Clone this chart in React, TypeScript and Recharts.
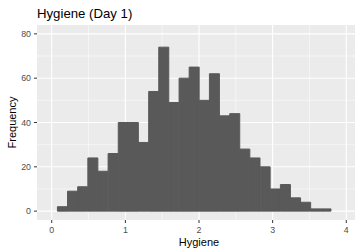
import React from 'react';
import { BarChart, Bar, XAxis, YAxis, CartesianGrid } from 'recharts';

// histogram bins (bin midpoints, counts)
const binMids = [
  0.146, 0.283, 0.421, 0.559, 0.696, 0.834, 0.972, 1.109, 1.247,
  1.385, 1.522, 1.66, 1.798, 1.935, 2.073, 2.21, 2.348, 2.486,
  2.623, 2.761, 2.899, 3.036, 3.174, 3.312, 3.449, 3.587, 3.725
];
const counts = [
  2, 9, 11, 24, 18, 26, 40, 40, 31,
  54, 74, 49, 60, 65, 50, 62, 43, 44,
  28, 24, 20, 10, 12, 6, 4, 1, 1
];

const xTicks = [0, 1, 2, 3, 4];
const yTicks = [0, 20, 40, 60, 80];
const xMinor = [0.5, 1.5, 2.5, 3.5];
const yMinor = [10, 30, 50, 70];

const data = binMids.map((mid, i) => ({ mid, count: counts[i] }));

const FONT = '"Liberation Sans", Arial, sans-serif';

const YTitle = ({ viewBox }: any) => {
  const cx = viewBox.x + 9;
  const cy = viewBox.y + viewBox.height / 2;
  return (
    <text
      x={cx}
      y={cy}
      transform={`rotate(-90, ${cx}, ${cy})`}
      textAnchor="middle"
      fontSize={11}
      fill="#000"
      fontFamily={FONT}
    >
      Frequency
    </text>
  );
};

export default function App() {
  return (
    <div style={{ position: 'absolute', left: 0, top: 0, width: 355, height: 248, overflow: 'hidden', background: '#fff', fontFamily: FONT }}>
      <BarChart
        width={362}
        height={248}
        data={data}
        margin={{ top: 25, right: 1, bottom: 0, left: 7 }}
        barCategoryGap={0}
        barGap={0}
      >
        {/* panel + minor grid */}
        <CartesianGrid
          fill="#EBEBEB"
          stroke="#FFFFFF"
          strokeWidth={0.5}
          horizontalValues={yMinor}
          verticalValues={xMinor}
        />
        {/* major grid */}
        <CartesianGrid
          stroke="#FFFFFF"
          strokeWidth={1.1}
          horizontalValues={yTicks}
          verticalValues={xTicks}
        />
        <XAxis
          dataKey="mid"
          type="number"
          domain={[-0.2, 4.2]}
          ticks={xTicks}
          allowDataOverflow
          axisLine={false}
          tickLine={{ stroke: '#333333' }}
          tickSize={3}
          tickMargin={4}
          height={28}
          tick={{ fill: '#4D4D4D', fontSize: 8.8, fontFamily: FONT }}
          label={{ value: 'Hygiene', position: 'insideBottom', offset: 2.5, fill: '#000', fontSize: 11, fontFamily: FONT }}
        />
        <YAxis
          type="number"
          domain={[-4, 84]}
          ticks={yTicks}
          allowDataOverflow
          axisLine={false}
          tickLine={{ stroke: '#333333' }}
          tickSize={3}
          tickMargin={3}
          width={30}
          tick={{ fill: '#4D4D4D', fontSize: 8.8, fontFamily: FONT }}
          label={{ content: YTitle }}
        />
        <Bar dataKey="count" fill="#595959" stroke="#595959" strokeWidth={1} isAnimationActive={false} />
      </BarChart>
      <svg width={355} height={30} style={{ position: 'absolute', left: 0, top: 0 }}>
        <text x={37} y={18.3} fontSize={13.2} fill="#000" fontFamily={FONT}>
          Hygiene (Day 1)
        </text>
      </svg>
    </div>
  );
}
